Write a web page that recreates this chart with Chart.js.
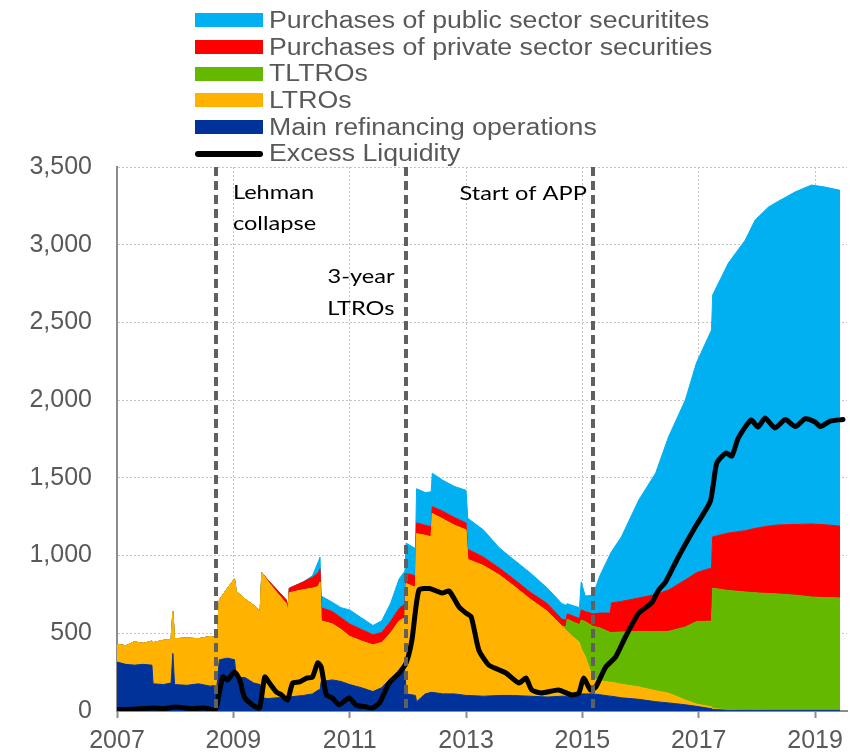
<!DOCTYPE html>
<html>
<head>
<meta charset="utf-8">
<script src="https://cdn.jsdelivr.net/npm/chart.js@4.4.1/dist/chart.umd.min.js"></script>
<style>
  html, body { margin: 0; padding: 0; background: #fff; }
  #wrap { position: relative; width: 851px; height: 755px; }
  #legend { position: absolute; left: 195px; top: 7px; }
  .row { display: flex; align-items: center; height: 26.7px; }
  .sw { width: 68px; height: 14px; margin-right: 6px; flex: none; }
  .sw.line { height: 6px; border-radius: 3px; }
  .lbl { font: 23px 'Liberation Sans', Arial, sans-serif; color: #595959; white-space: nowrap;
         transform: scaleX(1.16); transform-origin: left center; }
</style>
</head>
<body>
<div id="wrap">
  <canvas id="chart" width="851" height="755"></canvas>
  <div id="legend"></div>
</div>
<script>
// time axis (decimal years), shared by all stacked series
const dates = [
  2007.00, 2007.15, 2007.30, 2007.45, 2007.60, 2007.62, 2007.80, 2007.93, 2007.96, 2007.99,
  2008.20, 2008.40, 2008.60, 2008.72, 2008.76, 2008.90, 2009.02, 2009.05, 2009.20, 2009.35,
  2009.46, 2009.49, 2009.60, 2009.75, 2009.91, 2009.94, 2009.96, 2010.20, 2010.36, 2010.46,
  2010.49, 2010.51, 2010.70, 2010.85, 2011.00, 2011.20, 2011.40, 2011.55, 2011.70, 2011.85,
  2011.95, 2011.97, 2012.13, 2012.15, 2012.30, 2012.40, 2012.42, 2012.60, 2012.80, 2013.00,
  2013.03, 2013.30, 2013.57, 2013.80, 2014.10, 2014.40, 2014.65, 2014.72, 2014.74, 2014.95,
  2014.98, 2015.05, 2015.18, 2015.30, 2015.48, 2015.50, 2015.67, 2015.97, 2016.26, 2016.48,
  2016.77, 2016.96, 2017.22, 2017.24, 2017.51, 2017.80, 2017.97, 2018.20, 2018.37, 2018.66,
  2018.94, 2019.17, 2019.43
];

// EUR bn
const mro = [
  315, 300, 295, 300, 295, 175, 170, 180, 370, 170,
  165, 175, 160, 165, 330, 340, 330, 215, 215, 180,
  170, 85, 80, 85, 85, 85, 90, 100, 110, 135,
  135, 190, 200, 190, 170, 150, 125, 150, 210, 250,
  260, 110, 100, 60, 110, 120, 120, 110, 110, 100,
  100, 95, 100, 100, 95, 90, 95, 95, 95, 100,
  110, 110, 110, 105, 95, 95, 85, 75, 60, 52,
  40, 30, 15, 10, 5, 5, 4, 4, 4, 4,
  4, 4, 4
];
const ltro = [
  115, 120, 150, 135, 155, 265, 285, 280, 270, 295,
  305, 290, 320, 305, 385, 450, 520, 555, 505, 500,
  470, 805, 750, 675, 605, 555, 670, 680, 680, 665,
  695, 390, 360, 335, 310, 300, 300, 290, 290, 330,
  340, 710, 695, 1080, 1020, 1000, 1150, 1125, 1085, 1065,
  875, 840, 775, 710, 625, 550, 450, 425, 415, 340,
  290, 240, 100, 90, 90, 90, 87, 80, 70, 63,
  30, 15, 11, 5, 3, 1, 1, 0, 0, 0,
  0, 0, 0
];
const tltro = [
  0, 0, 0, 0, 0, 0, 0, 0, 0, 0,
  0, 0, 0, 0, 0, 0, 0, 0, 0, 0,
  0, 0, 0, 0, 0, 0, 0, 0, 0, 0,
  0, 0, 0, 0, 0, 0, 0, 0, 0, 0,
  0, 0, 0, 0, 0, 0, 0, 0, 0, 0,
  0, 0, 0, 0, 0, 0, 0, 20, 80, 115,
  185, 225, 335, 340, 320, 320, 336, 357, 380, 397,
  470, 530, 552, 775, 767, 760, 755, 752, 749, 741,
  729, 726, 723
];
const privateSec = [
  0, 0, 0, 0, 0, 0, 0, 0, 0, 0,
  0, 0, 0, 0, 0, 0, 0, 0, 0, 0,
  0, 0, 10, 20, 25, 20, 30, 50, 70, 90,
  85, 85, 80, 75, 80, 75, 65, 65, 75, 80,
  90, 65, 75, 70, 65, 65, 45, 50, 50, 45,
  65, 55, 45, 45, 45, 50, 45, 45, 35, 40,
  65, 65, 80, 95, 125, 190, 197, 215, 240, 266,
  303, 315, 342, 330, 370, 394, 415, 434, 444, 455,
  470, 468, 463
];
const publicSec = [
  0, 0, 0, 0, 0, 0, 0, 0, 0, 0,
  0, 0, 0, 0, 0, 0, 0, 0, 0, 0,
  0, 0, 0, 0, 0, 0, 0, 0, 10, 70,
  75, 75, 60, 65, 90, 75, 60, 75, 115, 190,
  210, 195, 175, 220, 210, 225, 215, 200, 200, 210,
  200, 175, 130, 125, 125, 100, 100, 95, 65, 70,
  180, 100, 120, 240, 380, 330, 415, 631, 781, 985,
  1158, 1349, 1531, 1557, 1737, 1870, 1984, 2053, 2083, 2140,
  2181, 2173, 2160
];

const excessDates = [
  2007.00, 2007.30, 2007.62, 2007.80, 2008.00, 2008.30, 2008.50, 2008.69, 2008.73, 2008.82,
  2008.90, 2009.02, 2009.11, 2009.19, 2009.33, 2009.45, 2009.54, 2009.62, 2009.74, 2009.83,
  2009.93, 2010.02, 2010.14, 2010.26, 2010.36, 2010.45, 2010.51, 2010.60, 2010.70, 2010.82,
  2010.99, 2011.11, 2011.29, 2011.39, 2011.51, 2011.68, 2011.85, 2011.97, 2012.07, 2012.19,
  2012.37, 2012.59, 2012.71, 2012.88, 2013.00, 2013.09, 2013.22, 2013.39, 2013.57, 2013.69,
  2013.91, 2014.03, 2014.13, 2014.30, 2014.59, 2014.82, 2014.94, 2015.02, 2015.14, 2015.23,
  2015.40, 2015.57, 2015.74, 2015.97, 2016.19, 2016.31, 2016.43, 2016.65, 2016.94, 2017.20,
  2017.31, 2017.47, 2017.57, 2017.68, 2017.90, 2018.02, 2018.14, 2018.31, 2018.49, 2018.66,
  2018.83, 2019.00, 2019.09, 2019.26, 2019.48
];
const excessLiquidity = [
  10, 12, 20, 15, 25, 15, 20, 10, 60, 219,
  200, 251, 200, 90, 39, 19, 219, 180, 122, 103,
  71, 180, 187, 212, 219, 309, 283, 103, 84, 39,
  84, 39, 26, 19, 51, 180, 244, 309, 457, 778,
  788, 759, 772, 669, 630, 605, 392, 296, 264, 244,
  180, 212, 135, 116, 135, 103, 116, 212, 135, 154,
  283, 347, 476, 630, 695, 778, 830, 991, 1184, 1350,
  1595, 1660, 1640, 1756, 1872, 1827, 1885, 1821, 1875, 1830,
  1880, 1860, 1830, 1865, 1875
];

const seriesLabels = [
  'Main refinancing operations', 'LTROs', 'TLTROs',
  'Purchases of private sector securities', 'Purchases of public sector securitites'
];
const excessLabel = 'Excess Liquidity';
const xTickYears = [2007, 2009, 2011, 2013, 2015, 2017, 2019];
const eventYears = [2008.70, 2011.96, 2015.18];
const eventLabels = [['Lehman', 'collapse'], ['3-year', 'LTROs'], ['Start of APP']];

// styling
const seriesColors = ['#003299', '#FFB300', '#64B800', '#FF0000', '#00B0F0'];
const labelStyle = [
  { dx: 17, align: 'left', lines: [32, 63] },
  { dx: -11, align: 'right', lines: [116, 148] },
  { dx: -6, align: 'right', lines: [33] }
];

const stackedSeries = [mro, ltro, tltro, privateSec, publicSec];

const datasets = stackedSeries.map((vals, i) => ({
  label: seriesLabels[i],
  data: dates.map((d, j) => ({ x: d, y: vals[j] })),
  backgroundColor: seriesColors[i],
  borderColor: seriesColors[i],
  borderWidth: 1,
  pointRadius: 0,
  tension: 0,
  fill: i === 0 ? 'origin' : '-1',
  stack: 'ops',
  order: 1
}));
datasets.push({
  label: excessLabel,
  data: excessDates.map((d, j) => ({ x: d, y: excessLiquidity[j] })),
  borderColor: '#000000',
  backgroundColor: '#000000',
  borderWidth: 5,
  borderJoinStyle: 'round',
  borderCapStyle: 'round',
  pointRadius: 0,
  tension: 0.2,
  fill: false,
  stack: 'excess',
  order: 0
});

const eventPlugin = {
  id: 'events',
  afterDatasetsDraw(chart) {
    const { ctx, chartArea, scales } = chart;
    ctx.save();
    ctx.strokeStyle = '#606060';
    ctx.lineWidth = 4;
    ctx.setLineDash([9, 5]);
    eventYears.forEach(yr => {
      const x = Math.round(scales.x.getPixelForValue(yr));
      ctx.beginPath();
      ctx.moveTo(x, chartArea.top);
      ctx.lineTo(x, chartArea.bottom);
      ctx.stroke();
    });
    ctx.restore();

    ctx.save();
    ctx.fillStyle = '#000000';
    ctx.font = '20px Lato, "Open Sans", sans-serif';
    ctx.textBaseline = 'alphabetic';
    eventYears.forEach((yr, i) => {
      const st = labelStyle[i];
      const x = scales.x.getPixelForValue(yr) + st.dx;
      eventLabels[i].forEach((txt, k) => {
        ctx.save();
        ctx.translate(x, chartArea.top + st.lines[k]);
        ctx.scale(1.18, 1);
        ctx.textAlign = st.align;
        ctx.fillText(txt, 0, 0);
        ctx.restore();
      });
    });
    ctx.restore();
  }
};

Chart.defaults.font.family = "'Liberation Sans', Arial, sans-serif";
Chart.defaults.color = '#595959';

const chart = new Chart(document.getElementById('chart').getContext('2d'), {
  type: 'line',
  data: { datasets },
  options: {
    responsive: false,
    animation: false,
    devicePixelRatio: 1,
    layout: { padding: { top: 167, right: 3 } },
    plugins: { legend: { display: false }, tooltip: { enabled: false } },
    scales: {
      x: {
        type: 'linear',
        min: 2007,
        max: 2019.55,
        afterBuildTicks: s => { s.ticks = xTickYears.map(v => ({ value: v })); },
        afterFit: s => { s.height = 44; },
        ticks: { maxRotation: 0, autoSkip: false, padding: 8, font: { size: 25 }, color: '#595959',
                 callback: v => String(v) },
        grid: {
          color: c => (c.tick && c.tick.value === 2007) ? 'rgba(0,0,0,0)' : '#C4C4C4',
          lineWidth: 1,
          drawTicks: true,
          tickLength: 7,
          tickColor: '#8C8C8C',
          tickWidth: 2,
          tickBorderDash: []
        },
        border: { color: '#8C8C8C', width: 2, dash: [2, 2] }
      },
      y: {
        stacked: true,
        min: 0,
        max: 3500,
        afterFit: s => { s.width = 117; },
        ticks: { stepSize: 500, padding: 25, font: { size: 25 }, color: '#595959' },
        grid: { color: '#C4C4C4', lineWidth: 1, drawTicks: false },
        border: { color: '#8C8C8C', width: 2, dash: [2, 2] }
      }
    }
  },
  plugins: [eventPlugin]
});

// legend, top to bottom: stacked series from the top of the stack, then the line
const legend = document.getElementById('legend');
const order = [4, 3, 2, 1, 0, 5];
order.forEach(i => {
  const ds = chart.data.datasets[i];
  const row = document.createElement('div');
  row.className = 'row';
  const sw = document.createElement('span');
  sw.className = i === 5 ? 'sw line' : 'sw';
  sw.style.background = i === 5 ? ds.borderColor : ds.backgroundColor;
  const lbl = document.createElement('span');
  lbl.className = 'lbl';
  lbl.textContent = ds.label;
  row.appendChild(sw);
  row.appendChild(lbl);
  legend.appendChild(row);
});
</script>
</body>
</html>
